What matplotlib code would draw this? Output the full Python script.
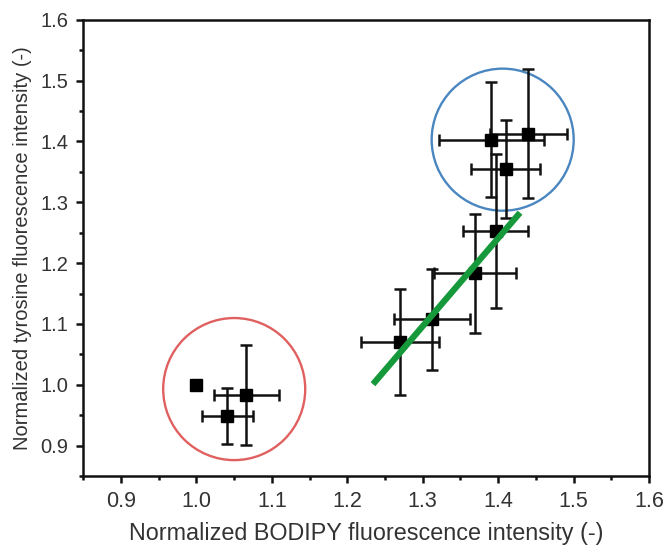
import matplotlib
matplotlib.use('Agg')
import matplotlib.pyplot as plt
from matplotlib.patches import Ellipse
from matplotlib.ticker import MultipleLocator

plt.rcParams['font.family'] = ['Liberation Sans', 'DejaVu Sans']

# measured points (BODIPY vs tyrosine, normalized)
bodipy = [1.00, 1.041, 1.066, 1.270, 1.312, 1.369, 1.397, 1.391, 1.410, 1.440]
tyrosine = [1.00, 0.949, 0.983, 1.071, 1.108, 1.183, 1.253, 1.403, 1.355, 1.413]
bodipy_err = [0, 0.034, 0.043, 0.052, 0.050, 0.054, 0.043, 0.070, 0.046, 0.051]
tyrosine_err = [0, 0.046, 0.082, 0.087, 0.083, 0.097, 0.126, 0.094, 0.081, 0.106]

# trend line end points
fit_x = [1.234, 1.429]
fit_y = [1.001, 1.283]

# highlighted groups (centre x, centre y)
red_group = (1.050, 0.993)
blue_group = (1.406, 1.403)

tick_vals = [0.9, 1.0, 1.1, 1.2, 1.3, 1.4, 1.5, 1.6]
tick_text = ['0.9', '1.0', '1.1', '1.2', '1.3', '1.4', '1.5', '1.6']

fig = plt.figure(figsize=(6.67, 5.51), dpi=100)
ax = fig.add_axes([0.125, 0.136, 0.848, 0.828])

ax.errorbar(bodipy, tyrosine, xerr=bodipy_err, yerr=tyrosine_err,
            fmt='s', color='black', markersize=8.5, ecolor='#111111',
            elinewidth=1.8, capsize=4.5, capthick=1.8, zorder=3)

ax.plot(fit_x, fit_y, color='#16993a', linewidth=4.5, solid_capstyle='butt', zorder=4)

# circles: radius ~71 px, converted to data units for each axis
rx = 2 * 71 / 754
ry = 2 * 71 / 608
ax.add_patch(Ellipse(red_group, rx, ry, fill=False, edgecolor='#e06060', linewidth=1.7, zorder=2))
ax.add_patch(Ellipse(blue_group, rx, ry, fill=False, edgecolor='#4a86c0', linewidth=1.7, zorder=2))

ax.set_xlim(0.85, 1.6)
ax.set_ylim(0.85, 1.6)
ax.xaxis.set_minor_locator(MultipleLocator(0.05))
ax.yaxis.set_minor_locator(MultipleLocator(0.05))
ax.set_xticks(tick_vals)
ax.set_xticklabels(tick_text, fontsize=15.5)
ax.set_yticks(tick_vals)
ax.set_yticklabels(tick_text, fontsize=14.5)

for s in ax.spines.values():
    s.set_linewidth(1.8)
    s.set_color('#111111')
ax.tick_params(which='major', direction='out', length=5, width=1.8,
               colors='#111111', labelcolor='#333333', pad=6)
ax.tick_params(which='minor', direction='out', length=3, width=1.8, colors='#111111')

ax.set_xlabel('Normalized BODIPY fluorescence intensity (-)', fontsize=16.8, color='#333333', labelpad=7)
ax.set_ylabel('Normalized tyrosine fluorescence intensity (-)', fontsize=14.5, color='#333333', labelpad=6)

fig.savefig('out.png', dpi=100)
plt.close()
